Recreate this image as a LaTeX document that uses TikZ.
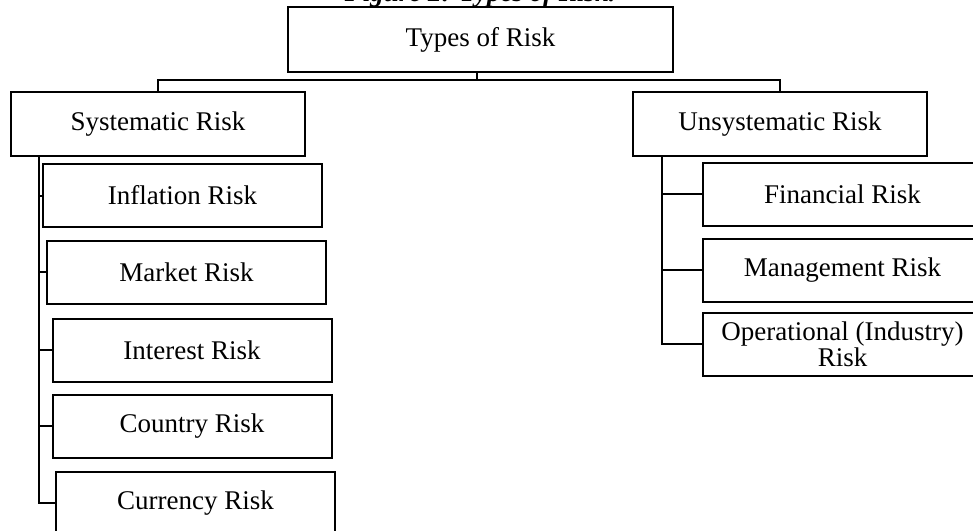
\documentclass[tikz,border=0pt]{standalone}
\usepackage{fontspec}
\setmainfont{Liberation Serif}
\tikzset{
  box/.style={draw, line width=2pt, minimum height=63pt, inner sep=0pt, align=center},
  subbox/.style={box, minimum width=279pt},
  conn/.style={line width=2pt}
}
\begin{document}
\begin{tikzpicture}[x=1pt,y=-1pt,line join=miter,font=\fontsize{27}{24}\selectfont]
	\useasboundingbox (0,0) rectangle (973,530);
	\clip (0,0) rectangle (973,530);
	\node[anchor=base,font=\fontsize{27}{24}\selectfont\bfseries\itshape] (cap) at (480,1.5) {Figure 2: Types of Risk.};
	\node[box,minimum width=385pt,minimum height=65pt] (types) at (480.5,39.5) {Types of Risk};
	\node[box,minimum width=294pt,minimum height=64pt] (sys) at (158,124) {Systematic Risk};
	\node[box,minimum width=294pt,minimum height=64pt] (unsys) at (780,124) {Unsystematic Risk};
	% systematic side
	\foreach \n/\x/\y/\t in {inf/182.5/195.5/Inflation Risk, mkt/186.5/272/Market Risk,
		int/192/350/Interest Risk, cty/192/426/Country Risk, cur/195.5/503/Currency Risk}
		\node[subbox] (\n) at (\x,\y) {\t};
	% unsystematic side
	\foreach \n/\y/\t in {fin/194/Financial Risk, mgt/270/Management Risk, op/344/{Operational (Industry)\\Risk}}
		\node[subbox] (\n) at (842.5,\y) {\t};
	\draw[conn] ([xshift=-4pt]types.south) -- ++(0,7) -| (sys.north);
	\draw[conn] ([xshift=-4pt]types.south) -- ++(0,7) -| (unsys.north);
	\coordinate (ltrunk) at ([xshift=29pt]sys.south west);
	\coordinate (rtrunk) at ([xshift=30pt]unsys.south west);
	\draw[conn] (ltrunk) |- (cur.west);
	\foreach \n in {inf,mkt,int,cty}
		\draw[conn] (ltrunk |- \n.west) -- (\n.west);
	\draw[conn] (rtrunk) |- (op.west);
	\foreach \n in {fin,mgt}
		\draw[conn] (rtrunk |- \n.west) -- (\n.west);
\end{tikzpicture}
\end{document}
